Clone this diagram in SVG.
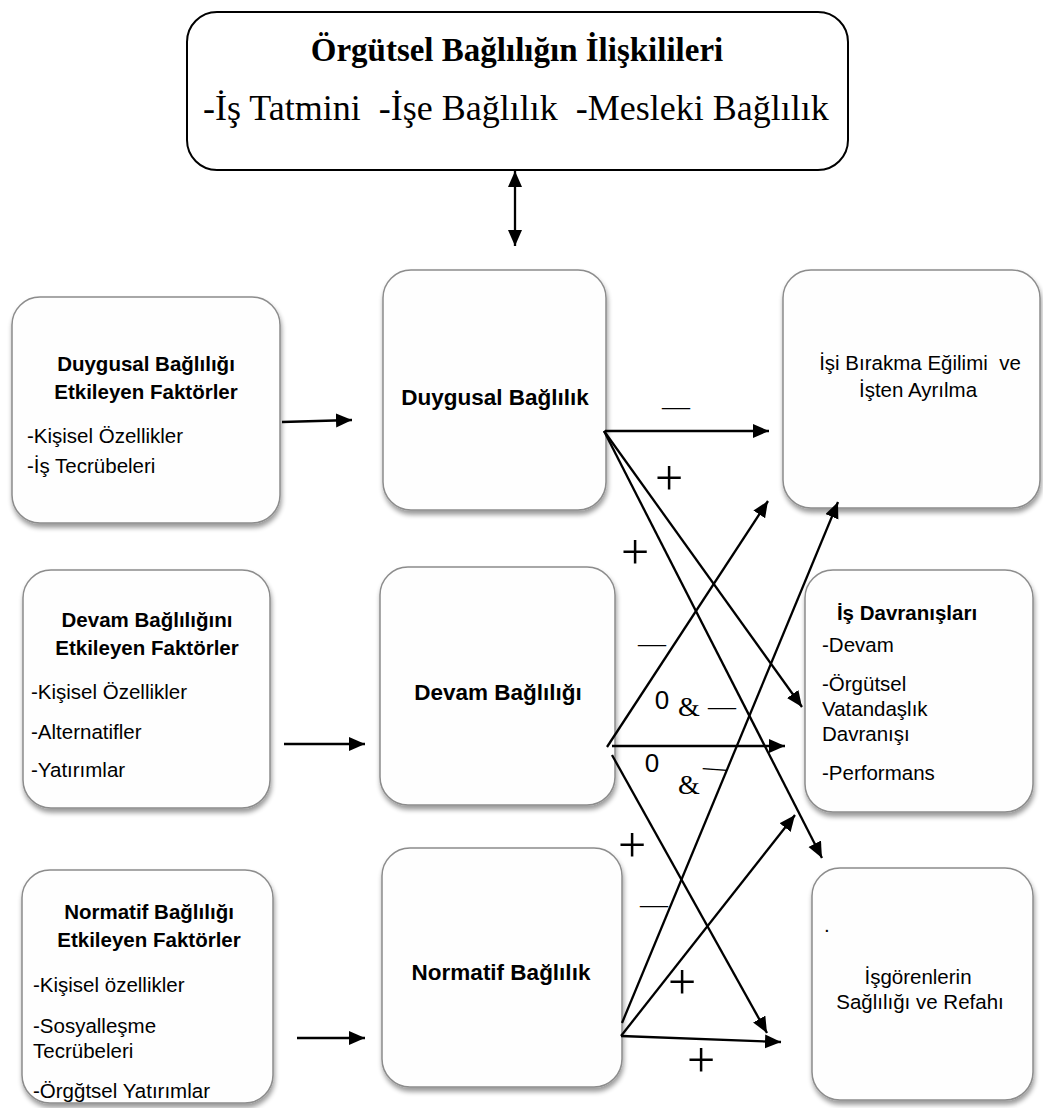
<svg xmlns="http://www.w3.org/2000/svg" width="1043" height="1108" viewBox="0 0 1043 1108">
<defs>
<style>
.bx{fill:#fefefe;stroke:#8c8c8c;stroke-width:1.5;filter:url(#sh)}
.top{fill:#fff;stroke:#000;stroke-width:2}
.s{font-family:"Liberation Sans",Arial,sans-serif;font-size:20.5px;fill:#000}
.b{font-family:"Liberation Sans",Arial,sans-serif;font-size:20.5px;font-weight:bold;fill:#000}
.mb{font-family:"Liberation Sans",Arial,sans-serif;font-size:22.5px;font-weight:bold;fill:#000}
.c{text-anchor:middle}
.tr{font-family:"Liberation Serif","Times New Roman",serif;fill:#000}
.ln{stroke:#000;stroke-width:2.3;fill:none;marker-end:url(#ah)}
.sg{font-family:"Liberation Serif","Times New Roman",serif;fill:#000}
.z{font-family:"Liberation Sans",Arial,sans-serif;font-size:26px;fill:#000;text-anchor:middle}
</style>
<filter id="sh" x="-10%" y="-10%" width="125%" height="125%">
<feGaussianBlur in="SourceAlpha" stdDeviation="2.5"/>
<feOffset dx="1" dy="4" result="o"/>
<feComponentTransfer><feFuncA type="linear" slope="0.4"/></feComponentTransfer>
<feMerge><feMergeNode/><feMergeNode in="SourceGraphic"/></feMerge>
</filter>
<marker id="ah" markerUnits="userSpaceOnUse" markerWidth="18" markerHeight="16" refX="16" refY="7" orient="auto">
<path d="M0,0 L16,7 L0,14 z" fill="#000"/>
</marker>
<marker id="as" markerUnits="userSpaceOnUse" markerWidth="18" markerHeight="16" refX="16" refY="7" orient="auto-start-reverse">
<path d="M0,0 L16,7 L0,14 z" fill="#000"/>
</marker>
</defs>

<g id="top-box">
<rect class="top" x="187" y="12" width="661" height="158" rx="30"/>
<text class="tr c" x="517" y="61" font-size="33" font-weight="bold">Örgütsel Bağlılığın İlişkilileri</text>
<text class="tr" x="203" y="120" font-size="36" xml:space="preserve">-İş Tatmini  -İşe Bağlılık  -Mesleki Bağlılık</text>
</g>

<g id="L1">
<rect class="bx" x="12" y="297" width="268" height="226" rx="28"/>
<text class="b c" x="146" y="371">Duygusal Bağlılığı</text>
<text class="b c" x="146" y="399">Etkileyen Faktörler</text>
<text class="s" x="27" y="443">-Kişisel Özellikler</text>
<text class="s" x="27" y="473">-İş Tecrübeleri</text>
</g>

<g id="L2">
<rect class="bx" x="23" y="570" width="247" height="238" rx="28"/>
<text class="b c" x="147" y="627">Devam Bağlılığını</text>
<text class="b c" x="147" y="655">Etkileyen Faktörler</text>
<text class="s" x="31" y="699">-Kişisel Özellikler</text>
<text class="s" x="31" y="739">-Alternatifler</text>
<text class="s" x="31" y="777">-Yatırımlar</text>
</g>

<g id="L3">
<rect class="bx" x="22" y="870" width="251" height="233" rx="28"/>
<text class="b c" x="149" y="919">Normatif Bağlılığı</text>
<text class="b c" x="149" y="947">Etkileyen Faktörler</text>
<text class="s" x="33" y="992">-Kişisel özellikler</text>
<text class="s" x="33" y="1033">-Sosyalleşme</text>
<text class="s" x="33" y="1058">Tecrübeleri</text>
<text class="s" x="33" y="1098">-Örgğtsel Yatırımlar</text>
</g>

<g id="M1">
<rect class="bx" x="383" y="270" width="223" height="240" rx="28"/>
<text class="mb c" x="495" y="405">Duygusal Bağlılık</text>
</g>

<g id="M2">
<rect class="bx" x="380" y="567" width="235" height="238" rx="28"/>
<text class="mb c" x="498" y="700">Devam Bağlılığı</text>
</g>

<g id="M3">
<rect class="bx" x="382" y="848" width="240" height="239" rx="28"/>
<text class="mb c" x="501" y="980">Normatif Bağlılık</text>
</g>

<g id="R1">
<rect class="bx" x="783" y="270" width="257" height="238" rx="28"/>
<text class="s c" x="920" y="370" xml:space="preserve">İşi Bırakma Eğilimi  ve</text>
<text class="s c" x="918" y="397">İşten Ayrılma</text>
</g>

<g id="R2">
<rect class="bx" x="805" y="570" width="228" height="242" rx="28"/>
<text class="b c" x="907" y="620">İş Davranışları</text>
<text class="s" x="822" y="652">-Devam</text>
<text class="s" x="822" y="691">-Örgütsel</text>
<text class="s" x="822" y="716">Vatandaşlık</text>
<text class="s" x="822" y="741">Davranışı</text>
<text class="s" x="822" y="780">-Performans</text>
</g>

<g id="R3">
<rect class="bx" x="812" y="868" width="221" height="232" rx="28"/>
<text class="s" x="824" y="932">.</text>
<text class="s c" x="918" y="984">İşgörenlerin</text>
<text class="s c" x="920" y="1009">Sağlılığı ve Refahı</text>
</g>

<g id="connectors">
<line class="ln" x1="515" y1="171" x2="515" y2="246" style="marker-start:url(#as)"/>
<line class="ln" x1="282" y1="422" x2="352" y2="420"/>
<line class="ln" x1="284" y1="744" x2="365" y2="744"/>
<line class="ln" x1="297" y1="1038" x2="365" y2="1038"/>
<line class="ln" x1="605" y1="431" x2="769" y2="431"/>
<line class="ln" x1="604" y1="431" x2="802" y2="707"/>
<line class="ln" x1="604" y1="431" x2="822" y2="858"/>
<line class="ln" x1="607" y1="747" x2="768" y2="501"/>
<line class="ln" x1="612" y1="746" x2="785" y2="746"/>
<line class="ln" x1="612" y1="755" x2="767" y2="1033"/>
<line class="ln" x1="622" y1="1023" x2="838" y2="502"/>
<line class="ln" x1="621" y1="1036" x2="795" y2="815"/>
<line class="ln" x1="621" y1="1036" x2="781" y2="1042"/>
</g>

<g id="signs">
<text class="sg" x="662" y="415" font-size="28">—</text>
<text class="sg" x="638" y="652" font-size="28">—</text>
<text class="sg" x="708" y="715" font-size="28">—</text>
<text class="sg" x="640" y="913" font-size="28">—</text>
<text class="sg" x="703" y="775" font-size="24" transform="rotate(4 715 768)">—</text>
<text class="sg c" x="669" y="495" font-size="50">+</text>
<text class="sg c" x="635" y="569" font-size="50">+</text>
<text class="sg c" x="632" y="862" font-size="50">+</text>
<text class="sg c" x="682" y="999" font-size="50">+</text>
<text class="sg c" x="701" y="1077" font-size="50">+</text>
<text class="z" x="662" y="709">0</text>
<text class="z" x="652" y="772">0</text>
<text class="sg c" x="689" y="716" font-size="28">&amp;</text>
<text class="sg c" x="689" y="794" font-size="28">&amp;</text>
</g>
</svg>
